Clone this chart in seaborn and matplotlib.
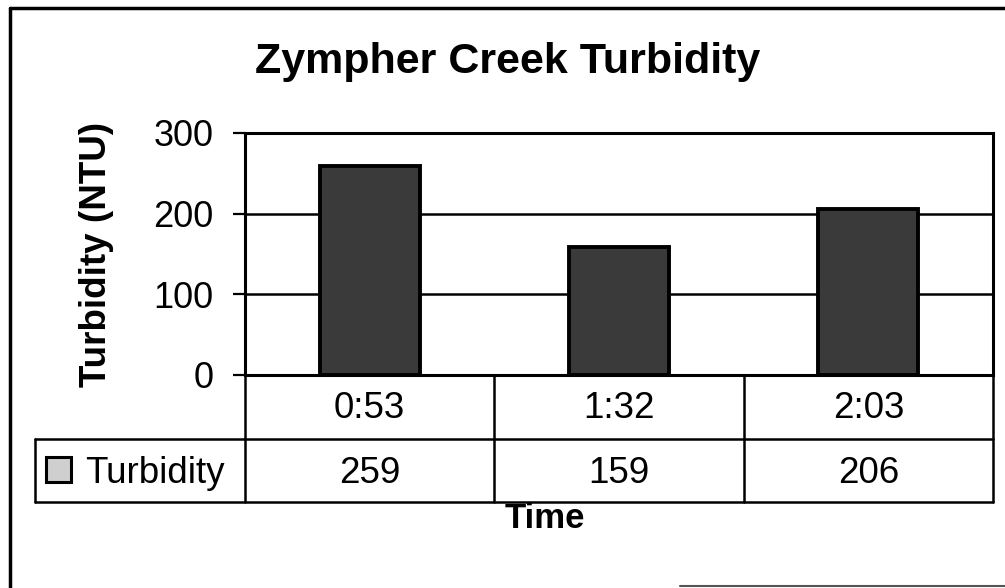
import matplotlib
matplotlib.use("Agg")
import matplotlib.pyplot as plt
import matplotlib.transforms as mtransforms
from matplotlib.lines import Line2D
from matplotlib.patches import Rectangle
import seaborn as sns
import pandas as pd

times = ["0:53", "1:32", "2:03"]
turbidity = [259, 159, 206]
series_name = "Turbidity"

df = pd.DataFrame({"Time": times, "Turbidity": turbidity})

sns.set_style("white")
plt.rcParams['font.family'] = ['Liberation Sans', 'DejaVu Sans']
plt.rcParams['text.color'] = 'black'
plt.rcParams['ytick.color'] = 'black'
plt.rcParams['ytick.labelcolor'] = 'black'

W, H = 1005, 588
fig = plt.figure(figsize=(W / 100, H / 100), dpi=100)

def fx(x):
    return x / W

def fy(y):
    return 1 - y / H

# plot area
ax = fig.add_axes([fx(245), fy(375), fx(993) - fx(245), fy(133) - fy(375)])
sns.barplot(data=df, x="Time", y="Turbidity", ax=ax, width=0.4,
            color="#3a3a3a", edgecolor="black", linewidth=2.8, saturation=1)
ax.set_xlim(-0.5, 2.5)
ax.set_ylim(0, 300)
ax.set_yticks([0, 100, 200, 300])
ax.yaxis.grid(True, color="black", linewidth=1.8)
ax.set_axisbelow(True)
for s in ax.spines.values():
    s.set_visible(True)
    s.set_color("black")
    s.set_linewidth(2.2)
ax.tick_params(axis="y", direction="out", length=8.5, width=1.6, color="black",
               labelsize=26, labelcolor="black", pad=14, left=True)
ax.tick_params(axis="x", bottom=False, labelbottom=False)
ax.set_xlabel("")
ax.set_ylabel("")

# titles
fig.text(fx(508), fy(73), "Zympher Creek Turbidity", ha="center", va="baseline",
         fontsize=31, fontweight="bold", color="black")
fig.text(fx(97), fy(254), "Turbidity (NTU)", ha="center", va="center",
         rotation=90, fontsize=26.5, fontweight="bold", color="black")
fig.text(fx(545), fy(528), "Time", ha="center", va="baseline",
         fontsize=25, fontweight="bold", color="black")

# data table under the axis
blend = mtransforms.blended_transform_factory(ax.transData, fig.transFigure)
lw = 1.8
for yy in [439, 502]:
    fig.add_artist(Line2D([fx(35), fx(993)], [fy(yy), fy(yy)], color="black", lw=lw))
fig.add_artist(Line2D([fx(35), fx(35)], [fy(439), fy(502)], color="black", lw=lw))
for xb in [-0.5, 0.5, 1.5, 2.5]:
    fig.add_artist(Line2D([xb, xb], [fy(375), fy(502)], color="black", lw=lw,
                          transform=blend))

for i, (t, v) in enumerate(zip(times, turbidity)):
    fig.text(i, fy(418), t, ha="center", va="baseline", fontsize=26.5,
             color="black", transform=blend)
    fig.text(i, fy(483), str(v), ha="center", va="baseline", fontsize=26.5,
             color="black", transform=blend)

fig.add_artist(Rectangle((fx(46), fy(482)), fx(71) - fx(46), fy(457) - fy(482),
                         transform=fig.transFigure, facecolor="#cfcfcf",
                         edgecolor="black", lw=2.2))
fig.text(fx(85), fy(483), series_name, ha="left", va="baseline", fontsize=26.5,
         color="black")

# chart area border (scanned page)
fig.add_artist(Line2D([fx(10), fx(10)], [fy(8), fy(588)], color="black", lw=2.5))
fig.add_artist(Line2D([fx(10), fx(1005)], [fy(8), fy(8)], color="black", lw=2.5))
fig.add_artist(Line2D([fx(680), fx(1005)], [fy(586), fy(586)], color="#555555", lw=1.5))

fig.savefig("out.png", dpi=100)
